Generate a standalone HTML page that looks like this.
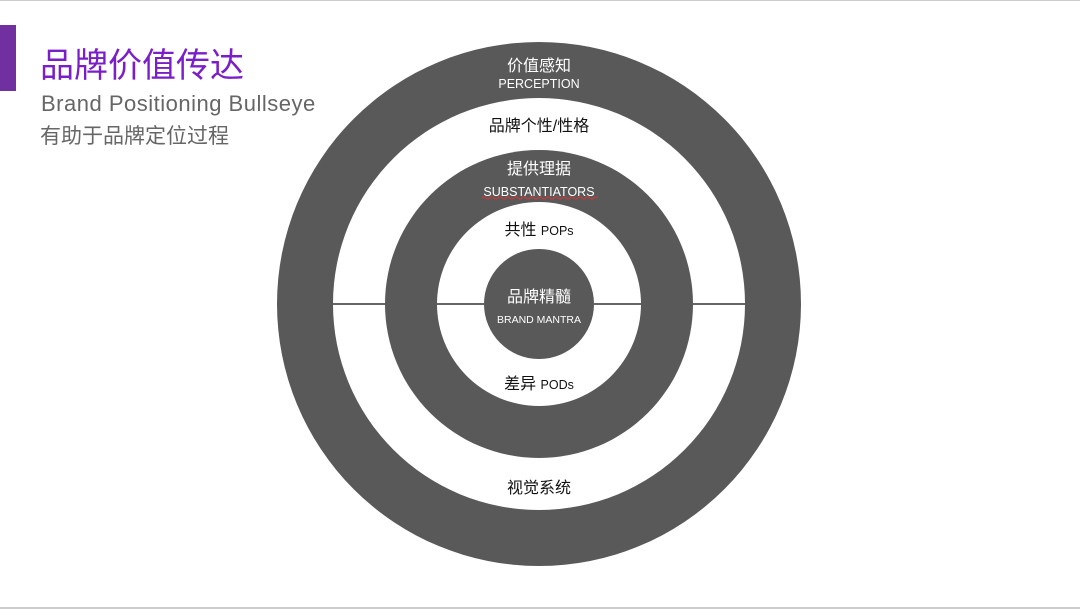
<!DOCTYPE html>
<html><head><meta charset="utf-8"><style>
body{margin:0;width:1080px;height:609px;background:#fff;position:relative;overflow:hidden;font-family:"Liberation Sans","Noto Sans CJK SC",sans-serif}
.t{position:absolute;white-space:nowrap}
</style></head><body>
<div style="position:absolute;left:0;top:0;width:1080px;height:1px;background:#ccc"></div>
<div style="position:absolute;left:0;top:607px;width:1080px;height:2px;background:#ccc"></div>
<div style="position:absolute;left:0;top:25px;width:16px;height:66px;background:#7030a0"></div>
<div class="t" style="left:40px;top:44px;font-size:34px;color:#7a1fc8;line-height:44px">品牌价值传达</div>
<div class="t" style="left:41px;top:90px;font-size:22px;color:#666;line-height:28px;letter-spacing:0.5px">Brand Positioning Bullseye</div>
<div class="t" style="left:40px;top:123px;font-size:21px;color:#666;line-height:28px">有助于品牌定位过程</div>
<svg width="1080" height="609" style="position:absolute;left:0;top:0">
<circle cx="539" cy="304" r="262" fill="#595959"/>
<circle cx="539" cy="304" r="206" fill="#fff"/>
<circle cx="539" cy="304" r="154" fill="#595959"/>
<circle cx="539" cy="304" r="102" fill="#fff"/>
<circle cx="539" cy="304" r="55" fill="#595959"/>
<g stroke="#666" stroke-width="2">
<line x1="333" y1="304" x2="385" y2="304"/><line x1="437" y1="304" x2="484" y2="304"/>
<line x1="594" y1="304" x2="641" y2="304"/><line x1="693" y1="304" x2="745" y2="304"/>
</g>
<path d="M482 198 q2 -2 4 0 t4 0 t4 0 t4 0 t4 0 t4 0 t4 0 t4 0 t4 0 t4 0 t4 0 t4 0 t4 0 t4 0 t4 0 t4 0 t4 0 t4 0 t4 0 t4 0 t4 0 t4 0 t4 0 t4 0 t4 0 t4 0 t4 0 t4 0 t4 0" stroke="#d33" stroke-width="1" fill="none"/>
<g font-family="Liberation Sans, Noto Sans CJK SC, sans-serif" text-anchor="middle">
<text x="539" y="71" font-size="16" fill="#fff">价值感知</text>
<text x="539" y="88" font-size="12.5" fill="#fff">PERCEPTION</text>
<text x="539" y="131" font-size="16" fill="#111">品牌个性/性格</text>
<text x="539" y="174" font-size="16" fill="#fff">提供理据</text>
<text x="539" y="196" font-size="12.5" fill="#fff">SUBSTANTIATORS</text>
<text x="539" y="235" font-size="16" fill="#111">共性 <tspan font-size="12.5">POPs</tspan></text>
<text x="539" y="302" font-size="16" fill="#fff">品牌精髓</text>
<text x="539" y="323" font-size="10.5" fill="#fff">BRAND MANTRA</text>
<text x="539" y="389" font-size="16" fill="#111">差异 <tspan font-size="12.5">PODs</tspan></text>
<text x="539" y="493" font-size="16" fill="#111">视觉系统</text>
</g>
</svg>
</body></html>
